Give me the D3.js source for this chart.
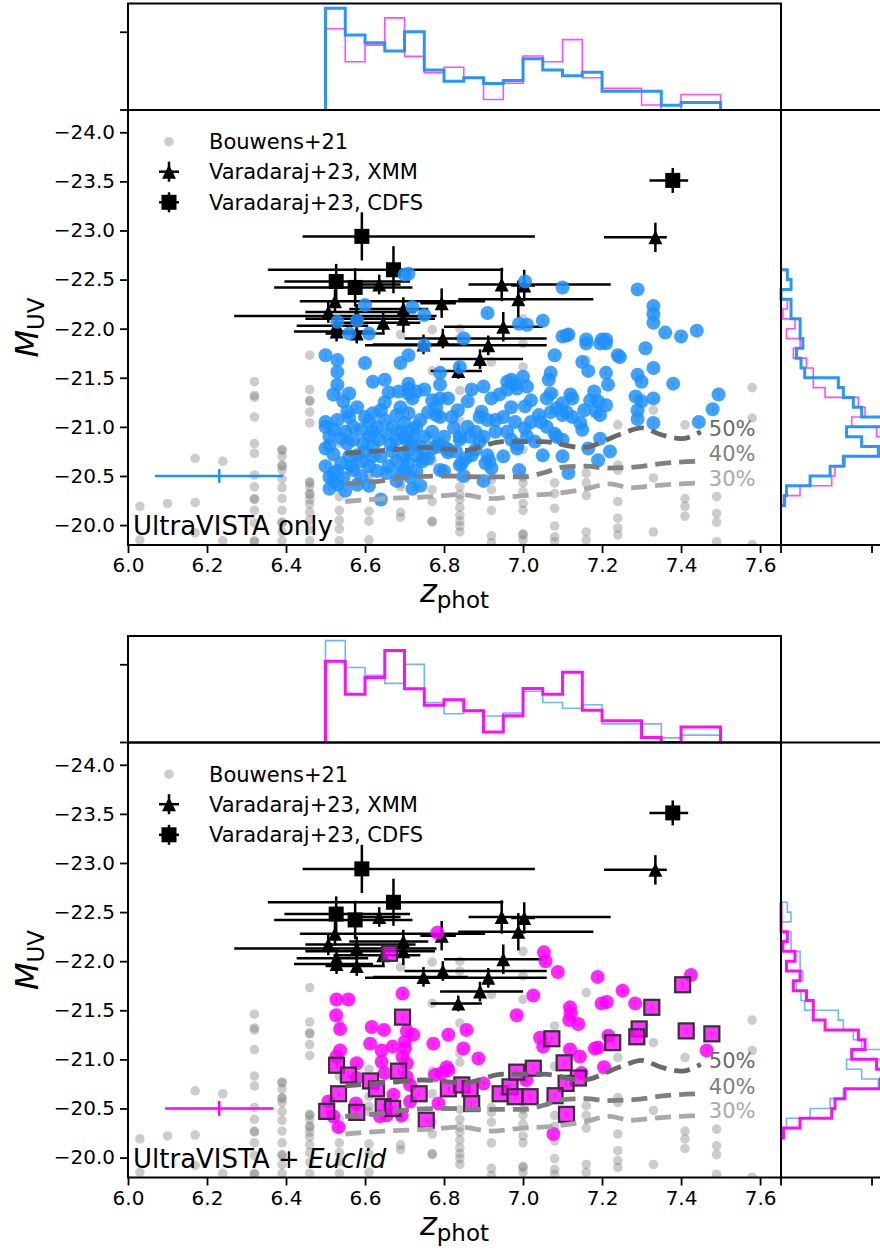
<!DOCTYPE html>
<html><head><meta charset="utf-8">
<script src="https://cdn.jsdelivr.net/npm/d3@7"></script>
<style>
body{margin:0;background:#fff}
svg{display:block}
text{font-family:"DejaVu Sans",sans-serif}
</style>
</head><body>
<svg id="fig" width="880" height="1252"></svg>
<script>
// ---------- data ----------
const zTicks = [6.0, 6.2, 6.4, 6.6, 6.8, 7.0, 7.2, 7.4, 7.6];
const mTicks = [-24.0, -23.5, -23.0, -22.5, -22.0, -21.5, -21.0, -20.5, -20.0];

// redshift histograms (density), bins of 0.05 from 6.50
const zBinStart = 6.50, zBinWidth = 0.05;
const zHistVista = [2.62,1.93,1.73,1.52,2.01,1.03,0.74,0.83,0.68,0.76,1.32,1.03,0.88,0.97,0.48,0.48,0.48,0.12,0.19,0.19];
const zHistEuclid = [2.09,1.24,1.67,2.37,1.38,0.96,1.10,0.82,0.27,0.69,1.39,1.24,1.81,0.83,0.56,0.56,0.13,0.00,0.40,0.40];

// M_UV histograms (density), bins of 0.1 from -22.6
const mBinStart = -22.6, mBinWidth = 0.1;
const mHistVista = [0.07,0.11,0,0.11,0.11,0.21,0.21,0.24,0.17,0.22,0.26,0.63,0.685,0.795,0.886,1.12,0.72,0.886,1.07,0.685,0.54,0.32,0.06,0.04];
const mHistEuclid = [0,0,0,0.07,0.02,0.154,0.06,0.21,0.136,0.28,0.355,0.355,0.484,0.85,0.923,0.777,1.05,1.12,1.09,0.703,0.593,0.557,0.209,0.026];

// Bouwens+21 (z column, list of M_UV)
const bouwens = [
  [6.03, [-20.19,-19.85]],
  [6.10, [-20.22]],
  [6.17, [-20.68,-20.23,-19.92]],
  [6.24, [-20.65,-19.84]],
  [6.32, [-21.46,-21.32,-21.30,-21.10,-20.83,-20.73,-20.51,-20.39,-20.27,-20.26,-20.15,-20.02,-19.84,-19.83]],
  [6.39, [-20.77,-20.76,-20.70,-20.61,-20.60,-20.56,-20.47,-20.38,-20.27,-20.15,-20.03,-20.02,-19.93,-19.84]],
  [6.46, [-21.73,-21.38,-21.27,-21.26,-21.15,-21.04,-20.44,-20.43,-20.39,-20.32,-20.31,-20.26,-20.21,-20.13,-20.05,-19.95,-19.84]],
  [6.535,[-21.38,-21.31,-20.95,-20.83,-20.39,-20.29,-20.15,-20.05,-19.96,-19.84]],
  [6.61, [-20.90,-20.62,-20.52,-20.47,-20.14,-20.04,-19.85]],
  [6.69, [-21.94,-20.97,-20.42,-20.39,-20.13,-20.08]],
  [6.77, [-21.99,-21.57,-20.88,-20.65,-20.36,-20.24,-20.04,-20.03]],
  [6.84, [-22.00,-21.90,-21.37,-21.06,-20.97,-20.49,-20.39,-20.31,-20.26,-20.18,-20.10,-20.04,-19.99,-19.93]],
  [6.92, [-21.66,-20.51,-20.46,-20.36,-20.15,-19.89,-19.82]],
  [7.00, [-22.10,-21.85,-21.61,-20.77,-20.49,-20.43,-20.34,-20.22,-20.15,-19.91,-19.90,-19.85]],
  [7.08, [-21.34,-20.93,-20.43,-20.32,-20.17,-19.99,-19.88,-19.83]],
  [7.16, [-21.68,-20.53,-20.43,-20.30,-19.93,-19.85]],
  [7.24, [-21.02,-20.61,-20.56,-20.24,-20.07,-19.97,-19.90]],
  [7.33, [-21.17,-20.48,-19.93]],
  [7.41, [-21.02,-20.27,-20.19,-20.09]],
  [7.49, [-20.29,-20.12,-20.03,-19.83]],
  [7.58, [-21.40,-21.09,-19.80]]
];

// Varadaraj+23: z, M, z_lo, z_hi, M_err
const xmm = [
  [7.335,-22.93,7.205,7.364,0.15],
  [6.636,-22.45,6.58,6.69,0.10],
  [6.946,-22.45,6.862,7.222,0.17],
  [7.003,-22.44,6.97,7.03,0.16],
  [6.988,-22.30,6.836,7.178,0.19],
  [6.524,-22.28,6.435,6.904,0.12],
  [6.507,-22.17,6.449,6.728,0.11],
  [6.697,-22.20,6.56,6.76,0.12],
  [6.697,-22.10,6.449,6.777,0.14],
  [6.794,-22.26,6.74,6.83,0.15],
  [6.646,-22.06,6.52,6.74,0.10],
  [6.528,-22.03,6.427,6.608,0.10],
  [6.579,-22.13,6.269,6.781,0.12],
  [6.950,-22.02,6.80,7.05,0.15],
  [6.528,-21.97,6.42,6.62,0.10],
  [6.579,-21.95,6.50,6.65,0.10],
  [6.748,-21.84,6.62,6.86,0.10],
  [6.797,-21.90,6.70,7.06,0.10],
  [6.836,-21.57,6.766,6.896,0.08],
  [6.891,-21.69,6.79,7.00,0.10],
  [6.912,-21.83,6.60,7.06,0.10]
];
const cdfs = [
  [6.592,-22.94,6.442,7.030,0.245],
  [6.672,-22.60,6.354,6.950,0.24],
  [6.527,-22.48,6.396,6.714,0.18],
  [6.575,-22.42,6.37,6.72,0.195],
  [7.379,-23.51,7.32,7.418,0.127]
];

// completeness curves
const comp50z = [6.55,6.65,6.75,6.85,6.95,7.05,7.15,7.25,7.30,7.35,7.40,7.45];
const comp50m = [-20.73,-20.76,-20.79,-20.76,-20.85,-20.85,-20.79,-20.93,-20.99,-20.92,-20.88,-20.95];
const comp40z = [6.55,6.62,6.72,6.80,6.90,7.00,7.05,7.10,7.16,7.21,7.28,7.36,7.45];
const comp40m = [-20.42,-20.44,-20.49,-20.50,-20.49,-20.49,-20.53,-20.59,-20.60,-20.58,-20.59,-20.63,-20.65];
const comp30z = [6.55,6.65,6.77,6.84,6.92,7.00,7.08,7.15,7.22,7.27,7.33,7.40,7.45];
const comp30m = [-20.24,-20.27,-20.29,-20.31,-20.27,-20.30,-20.32,-20.36,-20.42,-20.38,-20.40,-20.42,-20.43];

// UltraVISTA-only sample
const vista = [
 [6.70,-22.55],[6.71,-22.56],[6.60,-22.24],[6.72,-22.22],[6.75,-22.14],[6.53,-22.07],[6.58,-22.08],[6.56,-21.95],[6.61,-21.95],
 [6.91,-22.16],[6.99,-22.05],[7.005,-22.48],[7.10,-22.42],[7.29,-22.40],[7.33,-22.23],[7.33,-22.15],[7.33,-22.06],[7.36,-21.96],
 [7.40,-21.92],[7.44,-21.98],[7.01,-22.04],[7.05,-22.08],[7.11,-21.93],[7.16,-21.89],[7.20,-21.89],[7.21,-21.89],
 [6.75,-21.83],[6.85,-21.90],[6.84,-21.61],[6.50,-21.73],[6.53,-21.68],[6.53,-21.56],[6.53,-21.43],[6.52,-21.33],[6.545,-21.26],
 [6.56,-21.34],[6.60,-21.65],[6.62,-21.46],[6.65,-21.48],[6.69,-21.65],[6.71,-21.73],[6.71,-21.44],[6.71,-21.39],[6.685,-21.36],
 [6.72,-21.29],[6.75,-21.38],[6.73,-21.36],[6.79,-21.55],[6.79,-21.43],[6.77,-21.27],[6.79,-21.29],[6.81,-21.29],[6.87,-21.38],
 [6.90,-21.41],[6.92,-21.29],[6.96,-21.46],[6.97,-21.48],[6.98,-21.44],[6.86,-21.26],[6.895,-21.155],[6.89,-21.10],[6.91,-21.07],
 [6.93,-21.07],[6.50,-21.05],[6.53,-21.07],[6.52,-20.97],[6.555,-21.155],[6.56,-21.10],[6.57,-21.00],[6.59,-20.97],[6.61,-21.05],
 [6.62,-21.14],[6.64,-21.17],[6.65,-21.07],[6.68,-21.12],[6.70,-21.04],[6.71,-21.14],[6.72,-20.97],[6.74,-21.07],[6.72,-20.90],
 [6.50,-20.78],[6.51,-20.81],[6.54,-20.88],[6.555,-20.83],[6.57,-20.87],[6.58,-20.71],[6.595,-20.83],[6.61,-20.90],[6.62,-20.80],
 [6.635,-20.87],[6.655,-20.93],[6.665,-20.82],[6.68,-20.87],[6.70,-20.90],[6.71,-20.765],[6.72,-20.82],[6.735,-20.70],[6.745,-20.65],
 [6.50,-20.60],[6.51,-20.49],[6.52,-20.53],[6.54,-20.63],[6.545,-20.48],[6.53,-20.41],[6.51,-20.37],[6.57,-20.56],[6.58,-20.41],
 [6.59,-20.65],[6.62,-20.70],[6.64,-20.26],[6.655,-20.53],[6.68,-20.65],[6.69,-20.53],[6.71,-20.63],[6.72,-20.37],[6.715,-20.49],
 [6.76,-20.68],[6.79,-20.56],[6.785,-20.80],[6.81,-20.77],[6.825,-20.99],[6.84,-20.87],[6.84,-20.61],[6.865,-20.90],[6.89,-20.85],
 [6.91,-20.71],[6.915,-20.65],[6.855,-20.68],[6.94,-21.33],[6.96,-21.38],[6.97,-20.87],[6.985,-20.82],[6.99,-20.56],
 [7.08,-21.73],[7.10,-21.92],[7.115,-21.94],[7.16,-21.85],[7.195,-21.85],[7.21,-21.85],[7.24,-21.73],[7.245,-21.71],[7.31,-21.80],
 [7.15,-21.66],[7.165,-21.57],[7.07,-21.55],[7.065,-21.48],[7.21,-21.55],[7.215,-21.43],[7.29,-21.53],[7.30,-21.46],[7.33,-21.60],
 [7.38,-21.44],[7.285,-21.31],[7.30,-21.26],[7.33,-21.29],[7.29,-21.17],[7.29,-21.08],[7.33,-21.04],[7.495,-21.33],[7.48,-21.18],
 [7.445,-21.05],[6.71,-21.34],[6.78,-21.12],[6.79,-21.10],[6.835,-21.17],[6.84,-20.90],[6.985,-21.39],[7.00,-21.51],[7.01,-21.41],
 [7.02,-21.27],[7.005,-21.21],[6.985,-20.78],[7.005,-20.985],[7.01,-20.90],[7.04,-21.12],[7.045,-21.05],[7.06,-21.29],[7.07,-21.34],
 [7.085,-21.19],[7.10,-21.24],[7.12,-21.33],[7.125,-21.29],[7.10,-21.12],[7.11,-21.15],[7.125,-21.10],[7.145,-21.04],[7.15,-20.97],
 [7.085,-20.90],[7.08,-20.93],[7.10,-20.87],[7.05,-20.71],[7.10,-20.70],[7.115,-20.53],[7.165,-20.78],[7.195,-20.88],[7.22,-20.75],
 [7.19,-20.66],[7.17,-21.27],[7.18,-21.36],[7.19,-21.26],[7.185,-21.155],[7.195,-21.12],[7.21,-21.22],[7.155,-21.17],
 [6.70,-20.56],[6.845,-20.63],[6.87,-20.71],[6.88,-20.77],[6.905,-20.63],[6.92,-20.58],[6.77,-20.78],[6.785,-20.83],[6.805,-20.78],
 [6.81,-20.74],[6.75,-20.68],[6.74,-20.80],[6.705,-20.87],
 [6.50,-21.00],[6.51,-20.90],[6.52,-20.72],[6.53,-20.55],[6.55,-20.95],[6.56,-20.70],[6.565,-20.60],[6.58,-21.20],[6.59,-20.50],
 [6.60,-21.10],[6.60,-20.75],[6.61,-20.60],[6.62,-20.95],[6.63,-21.00],[6.63,-20.55],[6.64,-20.70],[6.65,-21.25],[6.66,-20.60],
 [6.67,-21.00],[6.67,-20.75],[6.69,-20.95],[6.69,-21.20],[6.70,-20.70],[6.73,-21.00],[6.73,-20.55],[6.75,-20.90],[6.76,-21.15],
 [6.77,-20.95],[6.78,-21.20],[6.80,-20.90],[6.82,-21.10],[6.83,-20.75],[6.86,-21.00],[6.88,-20.95],[6.90,-20.90],[6.93,-20.95],
 [6.95,-21.10],[6.96,-20.95],[6.97,-21.20],[6.98,-21.05],[7.02,-21.05],[7.03,-20.85],[7.06,-21.00],[7.07,-21.15],[6.52,-20.45],
 [6.55,-20.35],[6.61,-20.40],[6.68,-20.45],[6.74,-20.40],[6.80,-20.55],[6.85,-20.50],[6.90,-20.45],[6.95,-20.70],[6.66,-21.35]
];

// UltraVISTA + Euclid sample: circles and squares
const euclidCircles = [
 [6.783,-22.29],[7.053,-22.09],[7.057,-22.00],[7.088,-21.89],[7.189,-21.84],[7.425,-21.86],
 [6.528,-21.61],[6.558,-21.61],[6.527,-21.45],[6.537,-21.31],[6.695,-21.67],[6.617,-21.33],[6.648,-21.30],[6.613,-21.16],
 [6.642,-21.09],[6.670,-21.13],[6.706,-21.29],[6.722,-21.25],[6.701,-21.18],[6.701,-21.11],[6.695,-21.03],[6.706,-20.96],
 [6.642,-20.975],[6.650,-20.86],[6.773,-21.16],[6.811,-21.25],[6.857,-21.30],[6.849,-21.11],[6.887,-21.01],[6.984,-21.45],
 [6.811,-20.89],[6.794,-20.86],[6.777,-20.84],[6.537,-21.09],[6.528,-21.03],[6.579,-20.96],[6.706,-20.82],[6.714,-20.74],
 [6.672,-20.64],[6.714,-20.57],[6.786,-20.55],[6.655,-20.43],[6.693,-20.43],[6.638,-20.42],[6.577,-20.55],[6.520,-20.42],
 [6.507,-20.57],[6.533,-20.31],[6.579,-20.81],
 [7.252,-21.70],[7.026,-21.65],[7.199,-21.57],[7.212,-21.585],[7.284,-21.57],[7.119,-21.53],[7.121,-21.47],[7.117,-21.40],
 [7.140,-21.36],[7.043,-21.22],[7.051,-21.13],[7.119,-21.10],[7.144,-21.03],[7.182,-21.11],[7.190,-21.12],[7.216,-21.24],
 [7.205,-20.92],[7.465,-21.09],[6.807,-20.92],[6.900,-20.755],[7.009,-20.79],[7.148,-20.86],[7.077,-20.24]
];
const euclidSquares = [
 [6.662,-22.08],[6.695,-21.43],[6.528,-20.94],[6.558,-20.84],[6.614,-20.78],[6.629,-20.70],[6.685,-20.88],[6.533,-20.65],
 [6.503,-20.47],[6.579,-20.46],[6.646,-20.52],[6.670,-20.50],[6.737,-20.65],[6.755,-20.38],[6.811,-20.70],[6.845,-20.74],
 [6.866,-20.70],[6.870,-20.55],[6.942,-20.65],[6.967,-20.72],[6.984,-20.87],[6.980,-20.62],[7.404,-21.76],[7.326,-21.53],
 [7.294,-21.31],[7.288,-21.23],[7.227,-21.17],[7.413,-21.29],[7.478,-21.26],[7.073,-21.21],[7.104,-20.965],[7.140,-20.81],
 [7.109,-20.755],[7.026,-20.91],[7.018,-20.62],[7.081,-20.63],[7.110,-20.44]
];

// typical uncertainty: z, z_lo, z_hi, M, M_err
const typErrVista = [6.231, 6.068, 6.393, -20.5, 0.07];
const typErrEuclid = [6.231, 6.094, 6.368, -20.5, 0.075];

// ---------- drawing ----------
const BLUE = "#1e90ff", MAG = "#ff00ff";
const svg = d3.select("#fig");
const L = 128, R = 781, T = 110, B = 545, HT = 3.5, HR = 887.5;

const x = d3.scaleLinear().domain([6.0, 7.653]).range([L, R]);
const y = d3.scaleLinear().domain([-24.227, -19.797]).range([T, B]);
const yh = d3.scaleLinear().domain([0, 2.74]).range([T, HT]);
const xh = d3.scaleLinear().domain([0, 1.17]).range([R, HR]);

function stepPathTop(vals) {
  let p = "M" + x(zBinStart) + "," + yh(0);
  vals.forEach((v, i) => {
    const a = x(zBinStart + i * zBinWidth), b = x(zBinStart + (i + 1) * zBinWidth);
    p += "L" + a + "," + yh(v) + "L" + b + "," + yh(v);
  });
  return p + "L" + x(zBinStart + vals.length * zBinWidth) + "," + yh(0);
}
function stepPathRight(vals) {
  let p = "M" + xh(0) + "," + y(mBinStart);
  vals.forEach((v, i) => {
    const a = y(mBinStart + i * mBinWidth), b = y(mBinStart + (i + 1) * mBinWidth);
    p += "L" + xh(v) + "," + a + "L" + xh(v) + "," + b;
  });
  return p + "L" + xh(0) + "," + y(mBinStart + vals.length * mBinWidth);
}

function triPath(s) { return "M0," + (-s/2) + "L" + (s/2) + "," + (s/2) + "L" + (-s/2) + "," + (s/2) + "Z"; }

function drawPanel(id, off, cfg) {
  const g = svg.append("g").attr("transform", "translate(0," + off + ")");
  const defs = g.append("defs");
  defs.append("clipPath").attr("id", "cm" + id).append("rect").attr("x", L).attr("y", T).attr("width", R - L).attr("height", B - T);
  defs.append("clipPath").attr("id", "ct" + id).append("rect").attr("x", L).attr("y", HT).attr("width", R - L).attr("height", T - HT);

  // ---- top histogram
  const gt = g.append("g").attr("clip-path", "url(#ct" + id + ")");
  cfg.topHists.forEach(h => {
    gt.append("path").attr("d", stepPathTop(h.vals)).attr("fill", "none")
      .attr("stroke", h.color).attr("stroke-width", h.w).attr("stroke-opacity", h.op);
  });
  g.append("rect").attr("x", L).attr("y", HT).attr("width", R - L).attr("height", T - HT)
    .attr("fill", "none").attr("stroke", "#000").attr("stroke-width", 2);
  [0, 2].forEach(v => g.append("line").attr("x1", L - 8).attr("x2", L).attr("y1", yh(v)).attr("y2", yh(v))
    .attr("stroke", "#000").attr("stroke-width", 1.8));

  // ---- right histogram
  cfg.rightHists.forEach(h => {
    g.append("path").attr("d", stepPathRight(h.vals)).attr("fill", "none")
      .attr("stroke", h.color).attr("stroke-width", h.w).attr("stroke-opacity", h.op);
  });
  g.append("rect").attr("x", R).attr("y", T).attr("width", HR - R).attr("height", B - T)
    .attr("fill", "none").attr("stroke", "#000").attr("stroke-width", 2);
  [0, 1].forEach(v => g.append("line").attr("x1", xh(v)).attr("x2", xh(v)).attr("y1", B).attr("y2", B + 8)
    .attr("stroke", "#000").attr("stroke-width", 1.8));

  // ---- main axes content
  const gm = g.append("g").attr("clip-path", "url(#cm" + id + ")");

  // Bouwens+21
  const bw = [];
  bouwens.forEach(c => c[1].forEach(m => bw.push([c[0], m])));
  gm.append("g").selectAll("circle").data(bw).join("circle")
    .attr("cx", d => x(d[0])).attr("cy", d => y(d[1])).attr("r", 4.8)
    .attr("fill", "#808080").attr("fill-opacity", 0.4);

  // Varadaraj+23 error bars + markers
  const gv = gm.append("g");
  [...xmm, ...cdfs].forEach(d => {
    gv.append("line").attr("x1", x(d[2])).attr("x2", x(d[3])).attr("y1", y(d[1])).attr("y2", y(d[1]))
      .attr("stroke", "#000").attr("stroke-width", 2.5);
    gv.append("line").attr("x1", x(d[0])).attr("x2", x(d[0])).attr("y1", y(d[1] - d[4])).attr("y2", y(d[1] + d[4]))
      .attr("stroke", "#000").attr("stroke-width", 2.5);
  });
  gv.selectAll("path.tri").data(xmm).join("path").attr("class", "tri")
    .attr("d", triPath(14)).attr("transform", d => "translate(" + x(d[0]) + "," + y(d[1]) + ")").attr("fill", "#000");
  gv.selectAll("rect.sq").data(cdfs).join("rect").attr("class", "sq")
    .attr("x", d => x(d[0]) - 7.5).attr("y", d => y(d[1]) - 7.5).attr("width", 15).attr("height", 15).attr("fill", "#000");

  // sample points
  const gp = gm.append("g");
  gp.selectAll("circle").data(cfg.circles).join("circle")
    .attr("cx", d => x(d[0])).attr("cy", d => y(d[1])).attr("r", 7)
    .attr("fill", cfg.color).attr("fill-opacity", 0.85);
  gp.selectAll("line.e").data(cfg.circles).join("line").attr("class", "e")
    .attr("x1", d => x(d[0])).attr("x2", d => x(d[0])).attr("y1", d => y(d[1]) - 2.5).attr("y2", d => y(d[1]) + 2.5)
    .attr("stroke", cfg.color).attr("stroke-width", 1).attr("stroke-opacity", 0.9);

  // completeness curves
  const line = d3.line().x(d => x(d[0])).y(d => y(d[1])).curve(d3.curveMonotoneX);
  [[comp50z, comp50m, "#696969"], [comp40z, comp40m, "#808080"], [comp30z, comp30m, "#a9a9a9"]].forEach(c => {
    gm.append("path").attr("d", line(c[0].map((z, i) => [z, c[1][i]]))).attr("fill", "none")
      .attr("stroke", c[2]).attr("stroke-width", 4.8).attr("stroke-dasharray", "16,8");
  });

  if (cfg.squares) {
    gp.append("g").selectAll("rect").data(cfg.squares).join("rect")
      .attr("x", d => x(d[0]) - 7.5).attr("y", d => y(d[1]) - 7.5).attr("width", 15).attr("height", 15)
      .attr("fill", MAG).attr("fill-opacity", 0.8).attr("stroke", "#333").attr("stroke-width", 2.2);
    gp.append("g").selectAll("line").data(cfg.squares).join("line")
      .attr("x1", d => x(d[0])).attr("x2", d => x(d[0])).attr("y1", d => y(d[1]) - 2.5).attr("y2", d => y(d[1]) + 2.5)
      .attr("stroke", MAG).attr("stroke-width", 1);
  }

  // typical error
  const te = cfg.typErr;
  gm.append("line").attr("x1", x(te[1])).attr("x2", x(te[2])).attr("y1", y(te[3])).attr("y2", y(te[3]))
    .attr("stroke", cfg.color).attr("stroke-width", 2.5);
  gm.append("line").attr("x1", x(te[0])).attr("x2", x(te[0])).attr("y1", y(te[3] - te[4])).attr("y2", y(te[3] + te[4]))
    .attr("stroke", cfg.color).attr("stroke-width", 2.5);

  // curve labels
  [["50%", "#696969", -20.91], ["40%", "#808080", -20.65], ["30%", "#a9a9a9", -20.40]].forEach(l => {
    g.append("text").attr("x", x(7.45) + 8).attr("y", y(l[2])).attr("font-size", 21).attr("fill", l[1]).text(l[0]);
  });

  // frame
  g.append("rect").attr("x", L).attr("y", T).attr("width", R - L).attr("height", B - T)
    .attr("fill", "none").attr("stroke", "#000").attr("stroke-width", 2);

  // axes
  const ax = g.append("g").attr("transform", "translate(0," + B + ")")
    .call(d3.axisBottom(x).tickValues(zTicks).tickFormat(d3.format(".1f")).tickSize(8).tickPadding(5));
  const ay = g.append("g").attr("transform", "translate(" + L + ",0)")
    .call(d3.axisLeft(y).tickValues(mTicks).tickFormat(d => d3.format(".1f")(d).replace("-", "\u2212")).tickSize(8).tickPadding(5));
  [ax, ay].forEach(a => {
    a.select(".domain").remove();
    a.selectAll(".tick line").attr("stroke-width", 1.8);
    a.selectAll("text").attr("font-size", 20).attr("font-family", "DejaVu Sans").attr("fill", "#000");
  });

  // axis labels
  const xl = g.append("text").attr("x", (L + R) / 2).attr("y", B + 57).attr("text-anchor", "middle").attr("font-size", 32);
  xl.append("tspan").attr("font-style", "italic").text("z");
  xl.append("tspan").attr("font-size", 23).attr("dy", 6).text("phot");
  const yl = g.append("text").attr("transform", "translate(38," + ((T + B) / 2) + ") rotate(-90)")
    .attr("text-anchor", "middle").attr("font-size", 32);
  yl.append("tspan").attr("font-style", "italic").text("M");
  yl.append("tspan").attr("font-size", 23).attr("dy", 6).text("UV");

  // legend
  const lg = g.append("g").attr("transform", "translate(169," + (T + 31.7) + ")");
  lg.append("circle").attr("cx", 0).attr("cy", 0).attr("r", 4.8).attr("fill", "#808080").attr("fill-opacity", 0.4);
  const l2 = lg.append("g").attr("transform", "translate(0,30)");
  l2.append("line").attr("x1", -10).attr("x2", 10).attr("stroke", "#000").attr("stroke-width", 2.5);
  l2.append("line").attr("y1", -10).attr("y2", 10).attr("stroke", "#000").attr("stroke-width", 2.5);
  l2.append("path").attr("d", triPath(14)).attr("fill", "#000");
  const l3 = lg.append("g").attr("transform", "translate(0,60.6)");
  l3.append("line").attr("x1", -10).attr("x2", 10).attr("stroke", "#000").attr("stroke-width", 2.5);
  l3.append("line").attr("y1", -10).attr("y2", 10).attr("stroke", "#000").attr("stroke-width", 2.5);
  l3.append("rect").attr("x", -7.5).attr("y", -7.5).attr("width", 15).attr("height", 15).attr("fill", "#000");
  ["Bouwens+21", "Varadaraj+23, XMM", "Varadaraj+23, CDFS"].forEach((t, i) => {
    lg.append("text").attr("x", 40).attr("y", i * 30.3 + 7.5).attr("font-size", 21).text(t);
  });

  // field label
  const fl = g.append("text").attr("x", L + 5).attr("y", B - 10).attr("font-size", 26);
  cfg.label.forEach(p => fl.append("tspan").attr("font-style", p[1] ? "italic" : "normal").text(p[0]));
}

drawPanel("a", 0, {
  color: BLUE, circles: vista, typErr: typErrVista,
  topHists: [{vals: zHistEuclid, color: MAG, w: 1.6, op: 0.7}, {vals: zHistVista, color: BLUE, w: 3, op: 0.95}],
  rightHists: [{vals: mHistEuclid, color: MAG, w: 1.6, op: 0.7}, {vals: mHistVista, color: BLUE, w: 3, op: 0.95}],
  label: [["UltraVISTA only", false]]
});
drawPanel("b", 632.5, {
  color: MAG, circles: euclidCircles, squares: euclidSquares, typErr: typErrEuclid,
  topHists: [{vals: zHistVista, color: BLUE, w: 1.6, op: 0.65}, {vals: zHistEuclid, color: MAG, w: 3, op: 0.95}],
  rightHists: [{vals: mHistVista, color: BLUE, w: 1.6, op: 0.65}, {vals: mHistEuclid, color: MAG, w: 3, op: 0.95}],
  label: [["UltraVISTA + ", false], ["Euclid", true]]
});
</script>
</body></html>
